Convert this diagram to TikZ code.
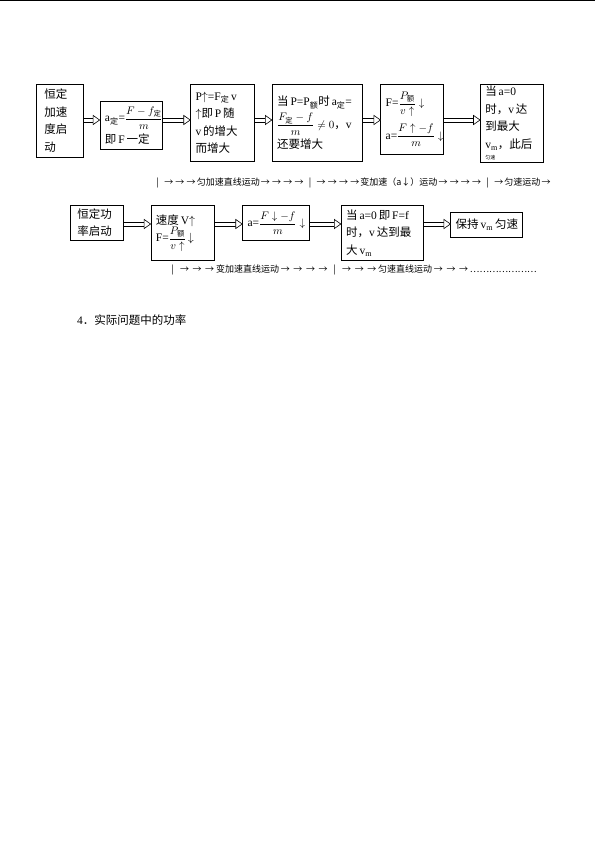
\documentclass[tikz,border=0pt]{standalone}
\usepackage{amsmath}
\usepackage{fontspec}
\setmainfont{Liberation Serif}
\newfontfamily\cjk{Noto Sans CJK SC}
\usetikzlibrary{positioning}
\newcommand{\zh}[1]{{\cjk #1}}
\newcommand{\zsub}[1]{_{\text{\cjk #1}}}
\newcommand{\mf}[1]{{\fontsize{10.5}{12}\selectfont$#1$}}
\newcommand{\ra}{\makebox[11.2pt]{→}}
\newcommand{\rb}{\makebox[12.6pt]{→}}
\newcommand{\vbar}{\makebox[11pt]{|}}
\tikzset{
  box/.style  = {draw, rectangle, line width=0.6pt, anchor=north west,
                 align=left, inner xsep=5pt, inner ysep=2pt,
                 font=\fontsize{11.5}{17.5}\selectfont},
  note/.style = {anchor=west, inner sep=0pt, font=\fontsize{9}{9}\cjk}
}
\newcommand{\fatarrow}[2]{%
  \draw[line width=0.6pt, transform canvas={yshift=1.8pt}]  (#2) ++(-6.5pt,0) -- (#1);
  \draw[line width=0.6pt, transform canvas={yshift=-1.8pt}] (#2) ++(-6.5pt,0) -- (#1);
  \draw[line width=0.6pt, fill=white] (#2) -- ++(-6.5pt,4.6pt) -- ++(0,-9.2pt) -- cycle;
}

\begin{document}
\begin{tikzpicture}[x=1pt, y=-1pt]
  \useasboundingbox (0,0) rectangle (595,841);

  % header rule
  \draw[line width=1.3pt] (0,0.8) -- (595,0.8);

  % ---- constant acceleration start ----
  \node[box, inner xsep=8pt, text width=31pt, minimum height=73pt] (b1) at (36,84)
       {\zh{恒定}\\\zh{加速}\\\zh{度启}\\\zh{动}};
  \node[box, right=16pt of b1.north east, anchor=north west, yshift=-17pt,
        text width=52pt, minimum height=48pt] (b2)
       {a$\zsub{定}$=\mf{\dfrac{F-f\zsub{定}}{m}}\\[4pt]\zh{即}\,F\,\zh{一定}};
  \node[box, right=28pt of b2.north east, anchor=north west, yshift=17pt,
        text width=54pt, minimum height=77pt] (b3)
       {P$\uparrow$=F$\zsub{定}$\,v\\$\uparrow$\zh{即}\,P\,\zh{随}\\v\,\zh{的增大}\\\zh{而增大}};
  \node[box, right=17pt of b3.north east, anchor=north west,
        text width=80pt, minimum height=77pt] (b4)
       {\zh{当}\,P=P$\zsub{额}$\zh{时}\,a$\zsub{定}$=\\[3pt]\mf{\dfrac{F\zsub{定}-f}{m}\neq 0}\zh{，}v\\[3pt]\zh{还要增大}};
  \node[box, right=18pt of b4.north east, anchor=north west,
        text width=53pt, minimum height=70pt] (b5)
       {F=\mf{\dfrac{P\zsub{额}}{v\uparrow}\downarrow}\\[7pt]a=\mf{\dfrac{F\uparrow-f}{m}\downarrow}};
  \node[box, right=36pt of b5.north east, anchor=north west,
        text width=53pt, minimum height=77pt] (b6)
       {\zh{当}\,a=0\\\zh{时，}v\,\zh{达}\\\zh{到最大}\\v$_\mathrm{m}$\zh{，此后}\\[-6pt]{\fontsize{5}{5}\selectfont\zh{匀速}}};

  \coordinate (r1) at (0,120);
  \fatarrow{b1.east|-r1}{b2.west|-r1}
  \fatarrow{b2.east|-r1}{b3.west|-r1}
  \fatarrow{b3.east|-r1}{b4.west|-r1}
  \fatarrow{b4.east|-r1}{b5.west|-r1}
  \fatarrow{b5.east|-r1}{b6.west|-r1}

  \node[note] (n1) at (152,183)
       {\vbar\ra\ra\ra 匀加速直线运动\ra\ra\ra\ra\vbar\ra\ra\ra\ra 变加速（a↓）运动\ra\ra\ra\ra\vbar\ra 匀速运动\ra};

  % ---- constant power start ----
  \node[box, inner xsep=7pt, text width=39pt, minimum height=35pt] (c1) at (70,205)
       {\zh{恒定功}\\\zh{率启动}};
  \node[box, right=27pt of c1.north east, anchor=north west,
        text width=53pt, minimum height=55pt] (c2)
       {\zh{速度}\,V$\uparrow$\\F=\mf{\dfrac{P\zsub{额}}{v\uparrow}}\,$\downarrow$};
  \node[box, right=28pt of c2.north east, anchor=north west,
        text width=57pt, minimum height=35pt] (c3)
       {a=\mf{\dfrac{F\downarrow-f}{m}\downarrow}};
  \node[box, right=31pt of c3.north east, anchor=north west,
        text width=72pt, minimum height=55pt] (c4)
       {\zh{当}\,a=0\,\zh{即}\,F=f\\\zh{时，}v\,\zh{达到最}\\\zh{大}\,v$_\mathrm{m}$};
  \node[box, right=27pt of c4.north east, anchor=north west, yshift=-7pt,
        text width=62pt, minimum height=25pt] (c5)
       {\zh{保持}\,v$_\mathrm{m}$\,\zh{匀速}};

  \coordinate (r2) at (0,224);
  \fatarrow{c1.east|-r2}{c2.west|-r2}
  \fatarrow{c2.east|-r2}{c3.west|-r2}
  \fatarrow{c3.east|-r2}{c4.west|-r2}
  \fatarrow{c4.east|-r2}{c5.west|-r2}

  \node[note] (n2) at (167,270)
       {\vbar\rb\rb\rb 变加速直线运动\rb\rb\rb\rb\vbar\rb\rb\rb 匀速直线运动\rb\rb\rb…………………};

  \node[anchor=west, inner sep=0pt, font=\fontsize{11.5}{11.5}\selectfont] (sec) at (77,320)
       {4\zh{．实际问题中的功率}};
\end{tikzpicture}
\end{document}
